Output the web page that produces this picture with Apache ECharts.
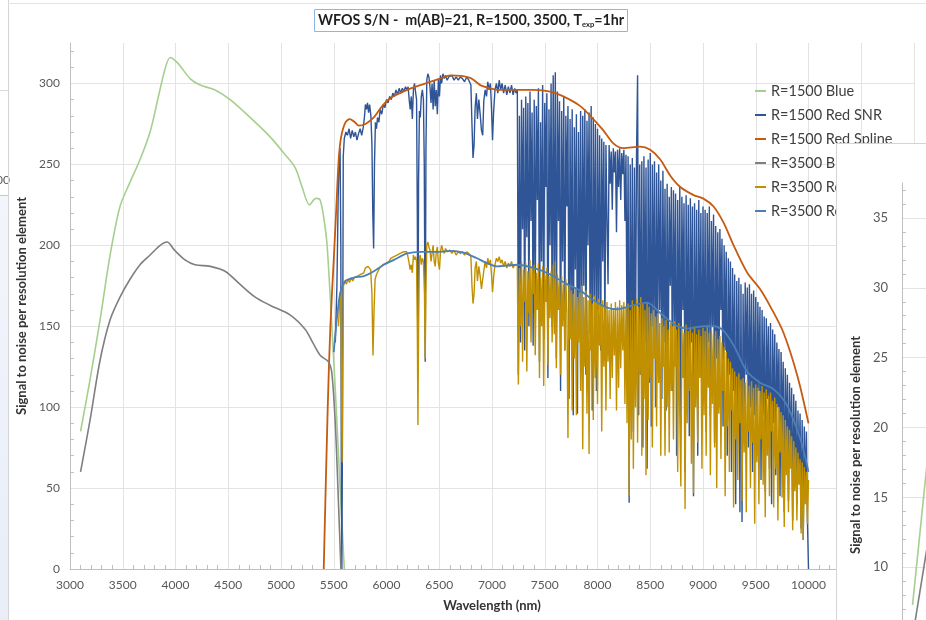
<!DOCTYPE html>
<html>
<head>
<meta charset="utf-8">
<script src="https://cdn.jsdelivr.net/npm/echarts@6/dist/echarts.min.js"></script>
<style>
  html, body { margin: 0; padding: 0; width: 926px; height: 620px; overflow: hidden; background: #fff; }
  #main { position: absolute; left: 0; top: 0; width: 926px; height: 620px; }
  #inset { position: absolute; left: 836px; top: 143px; width: 1000px; height: 620px;
           background: #fff; border-left: 1px solid #d4d4d4; border-top: 1px solid #d4d4d4; }
</style>
</head>
<body>
<div id="main"></div>
<div id="inset"></div>
<script>
// ---- S/N curves, [wavelength, S/N] ----
const seriesNames = ['R=1500 Blue', 'R=1500 Red SNR', 'R=1500 Red Spline',
                     'R=3500 Blue', 'R=3500 Red', 'R=3500 Red spline'];

const blue1500 = [[3100,85],[3190,117],[3285,154],[3380,194],[3474,224],[3569,239],[3664,253],
  [3759,270],[3835,291],[3901,309],[3950,316],[4000,314],[4043,311],[4138,303],[4233,299],
  [4375,296],[4518,290],[4707,279],[4897,267],[5039,256],[5134,248],[5200,236],[5270,225],
  [5330,229],[5371,228],[5410,215],[5437,200],[5482,150],[5516,109],[5547,68],[5579,27],[5600,0]];

const blue3500 = [[3100,60],[3190,92],[3285,129],[3380,154],[3474,168],[3569,179],[3664,188],
  [3759,194],[3855,200],[3920,202],[3990,197],[4090,191],[4185,188],[4330,187],[4470,184],
  [4610,176],[4755,168],[4895,163],[5085,157],[5230,148],[5300,140],[5371,132],[5450,128],
  [5482,121],[5516,88],[5547,37],[5568,0]];

const redSpline1500 = [[5405,0],[5443,100],[5468,150],[5500,191],[5525,224],[5547,253],[5570,267],
  [5611,276],[5652,278],[5700,276],[5737,274],[5800,275],[5880,279],[5959,286],[6038,291],
  [6196,296],[6323,299],[6506,303],[6607,305],[6794,303.5],[6889,299],[6984,297],[7078,296],
  [7393,296],[7552,295],[7676,292],[7837,286],[7960,278],[8055,271],[8150,263],[8245,260],
  [8404,261],[8500,259],[8595,253],[8690,243],[8785,236],[8911,231],[9000,229],[9100,224],
  [9195,214],[9290,200],[9420,183],[9545,172.6],[9640,162],[9763,146],[9896,119],[10000,90]];

const redSpline3500 = [[5500,134],[5532,156],[5563,171],[5611,178],[5690,180],[5785,181],
  [5880,184],[5975,188],[6070,191],[6196,195],[6323,196],[6506,196],[6607,196.5],[6730,195.5],
  [6857,192],[6952,189],[7047,187],[7140,187.5],[7237,188],[7393,186],[7552,182],[7710,176],
  [7837,172],[7963,166],[8090,161.5],[8185,160.5],[8311,162.5],[8470,164.6],[8596,158],
  [8755,150],[8850,148.6],[9007,150],[9102,150],[9197,147],[9292,138],[9418,122],[9545,115],
  [9671,111],[9797,101],[9924,80],[10000,60]];

// R=1500 red arm, up to the dense telluric region
const redSnr1500Head = [[5515,140],[5530,175],[5542,230],[5552,255],[5560,260],[5567,200],
  [5572,60],[5577,0],[5583,90],[5590,255],[5600,266],[5615,270],[5630,268],[5645,272],[5660,266],
  [5675,271],[5690,267],[5705,270],[5720,265],[5735,269],[5750,272],[5765,268],[5780,273],
  [5792,280],[5800,287],[5810,284],[5820,288],[5830,282],[5840,287],[5852,280],[5862,262],
  [5870,220],[5878,198],[5886,250],[5895,276],[5905,272],[5915,279],[5928,276],[5940,284],
  [5955,281],[5970,287],[5985,285],[6000,290],[6015,288],[6030,292],[6045,290],[6060,294],
  [6075,292],[6090,296],[6105,293],[6120,297],[6135,294],[6150,297],[6165,295],[6180,298],
  [6195,296],[6205,298],[6215,290],[6225,284],[6235,292],[6245,278],[6255,296],[6265,300],
  [6275,295],[6285,290],[6292,220],[6298,125],[6304,240],[6312,283],[6320,279],[6330,292],
  [6340,296],[6350,290],[6358,250],[6367,128],[6374,260],[6382,302],[6392,306],[6402,304],
  [6412,298],[6422,288],[6432,300],[6442,284],[6452,302],[6462,286],[6472,296],[6482,281],
  [6492,303],[6502,292],[6512,305],[6522,300],[6535,306],[6548,303],[6560,305],[6575,302],
  [6590,304],[6605,303],[6620,305],[6640,302],[6660,304],[6680,302],[6700,304],[6720,303],
  [6740,301],[6760,304],[6780,302],[6800,299],[6810,275],[6820,254],[6830,262],[6840,285],
  [6852,294],[6862,278],[6875,290],[6888,281],[6900,271],[6912,268],[6922,289],[6935,296],
  [6948,292],[6960,301],[6972,296],[6985,300],[6995,285],[7005,265],[7015,282],[7028,296],
  [7042,300],[7055,294],[7068,302],[7082,296],[7095,300],[7110,294],[7125,299],[7140,293],
  [7155,298],[7170,294],[7185,299],[7200,293],[7215,297],[7228,294],[7240,296],[7250,120],
  [7260,280],[7270,140],[7280,290],[7290,210]];

// Dense region, one row per 100 nm (7300..9990, 10 nm apart)
const denseStart = 7300, denseStep = 10;
const redSnr1500Dense = [
  285,135,292,205,288,150,295,215,282,138,   // 7300
  290,165,286,228,297,128,276,190,299,142,   // 7400
  288,236,294,118,284,200,300,150,305,175,   // 7500
  307,130,295,215,289,110,283,190,292,135,   // 7600
  280,224,286,105,278,160,284,95,273,185,    // 7700
  281,96,270,150,283,130,280,175,284,120,    // 7800
  277,200,282,145,286,98,279,168,275,110,    // 7900
  272,160,268,135,266,190,264,145,262,215,   // 8000
  176,262,238,258,222,260,245,258,208,259,   // 8100
  236,260,228,257,244,259,215,256,140,255,   // 8200
  41,250,110,254,85,248,130,256,305,95,      // 8300
  250,120,252,75,255,140,248,62,253,115,     // 8400
  257,88,250,150,252,100,245,130,250,160,    // 8500
  240,105,246,140,235,98,238,120,230,175,    // 8600
  236,110,234,150,232,70,228,125,236,88,     // 8700
  230,160,226,60,231,118,225,82,229,140,     // 8800
  224,45,226,105,222,70,228,130,220,90,      // 8900
  224,110,222,85,220,140,224,95,215,150,     // 9000
  219,78,212,130,208,100,210,160,204,88,     // 9100
  200,135,196,70,192,120,190,60,186,110,     // 9200
  182,40,178,95,180,35,176,29,170,90,        // 9300
  177,120,174,75,176,100,170,60,172,95,      // 9400
  168,70,165,110,162,55,160,95,156,48,       // 9500
  155,105,150,62,152,40,148,90,145,58,       // 9600
  140,100,136,45,134,80,128,35,124,75,       // 9700
  120,42,115,68,112,30,108,60,104,40,        // 9800
  98,55,96,25,92,18,88,45,85,30              // 9900
];
const redSnr1500Tail = [[10000,0]];

const red3500Head = [[5545,150],[5552,160],[5560,170],[5568,172],[5574,110],[5579,66],[5585,120],
  [5592,175],[5605,178],[5620,176],[5635,179],[5650,177],[5665,180],[5680,178],[5695,180],
  [5710,179],[5725,181],[5740,180],[5755,182],[5770,181],[5785,183],[5800,186],[5812,185],
  [5825,187],[5838,186],[5850,185],[5862,170],[5872,132],[5882,160],[5892,179],[5905,182],
  [5920,184],[5935,186],[5950,185],[5965,188],[5980,187],[5995,189],[6010,188],[6025,190],
  [6040,192],[6055,191],[6070,193],[6085,192],[6100,194],[6115,193],[6130,195],[6145,194],
  [6160,196],[6175,195],[6190,196],[6200,194],[6212,190],[6224,185],[6234,188],[6245,183],
  [6255,194],[6265,191],[6275,193],[6285,190],[6292,150],[6298,89],[6304,150],[6312,192],
  [6320,194],[6330,188],[6340,192],[6350,190],[6360,170],[6367,130],[6374,175],[6382,200],
  [6392,202],[6402,199],[6412,197],[6422,190],[6432,195],[6442,200],[6452,190],[6462,187],
  [6472,196],[6482,199],[6492,189],[6502,185],[6512,196],[6522,200],[6535,197],[6548,195],
  [6560,198],[6580,196],[6600,197],[6620,195],[6640,197],[6660,194],[6680,196],[6700,195],
  [6720,196],[6740,194],[6760,196],[6780,195],[6800,193],[6810,175],[6820,164],[6830,170],
  [6840,186],[6852,190],[6862,178],[6875,187],[6888,181],[6900,173],[6912,172],[6922,184],
  [6935,190],[6948,186],[6960,192],[6972,188],[6985,191],[6995,182],[7005,171],[7015,180],
  [7028,188],[7042,192],[7055,190],[7068,193],[7082,189],[7095,191],[7110,187],[7125,190],
  [7140,186],[7155,189],[7170,187],[7185,190],[7200,186],[7215,188],[7228,187],[7240,188],
  [7250,114],[7260,186],[7270,150],[7280,190],[7290,128]];

const red3500Dense = [
  185,165,189,122,184,158,191,140,186,170,   // 7300
  188,132,183,160,189,118,180,150,187,113,   // 7400
  182,165,186,126,181,155,184,140,188,145,   // 7500
  190,124,182,160,178,120,181,150,176,135,   // 7600
  179,158,81,175,142,172,98,170,130,174,     // 7700
  95,168,140,171,110,175,74,168,125,172,     // 7800
  96,166,71,170,135,164,92,169,118,165,      // 7900
  102,167,138,163,85,166,125,162,98,165,     // 8000
  128,160,105,164,118,161,132,165,98,162,    // 8100
  112,166,124,163,135,165,102,162,90,164,    // 8200
  45,160,80,166,62,163,100,167,78,162,       // 8300
  120,168,70,164,105,160,58,165,92,162,      // 8400
  118,158,75,160,130,156,88,158,115,152,     // 8500
  70,155,125,150,70,154,100,148,72,152,      // 8600
  110,150,80,153,125,148,60,152,95,51,       // 8700
  150,118,146,37,151,90,147,110,149,65,      // 8800
  146,47,150,100,145,78,148,118,144,62,      // 8900
  149,95,147,70,150,112,146,58,148,102,      // 9000
  145,75,147,50,142,96,144,68,140,110,       // 9100
  137,45,134,88,130,60,128,98,124,38,        // 9200
  122,80,119,55,121,90,117,42,118,72,        // 9300
  115,35,117,85,113,50,116,78,112,28,        // 9400
  114,66,112,40,110,80,113,52,109,32,        // 9500
  111,70,107,45,109,85,104,38,106,62,        // 9600
  102,30,100,72,97,44,95,26,92,58,           // 9700
  88,35,86,62,82,24,79,48,75,30,             // 9800
  72,52,68,22,66,18,63,40,60,28              // 9900
];
const red3500Tail = [[10000,55]];

// Fainter-target panel (partly visible at the right edge)
const faintBlue1500 = [[3100,7.3],[3300,22]];
const faintBlue3500 = [[3100,5.0],[3300,14.3]];

// Axis ranges and ticks
const xMin = 3000, xMax = 11000, xStep = 500;
const yMin = 0, yMax = 325, yStep = 50;
const insetYMin = 0, insetYMax = 37.5, insetYStep = 5;

const FONT = 'Lato';
const colors = ['#a5cf8f', '#2f5597', '#c55a11', '#7f7f7f', '#c09000', '#4a7fb8'];

function withDense(head, dense, tail) {
  const out = head.slice();
  dense.forEach((v, i) => out.push([denseStart + i * denseStep, v]));
  return out.concat(tail);
}

const redSnr1500 = withDense(redSnr1500Head, redSnr1500Dense, redSnr1500Tail);
const red3500 = withDense(red3500Head, red3500Dense, red3500Tail);

const plain = v => String(v);

const main = echarts.init(document.getElementById('main'), null, { renderer: 'canvas' });

const axisText = { fontFamily: FONT, fontSize: 12, color: '#595959' };
const nameText = { fontFamily: FONT, fontSize: 13, fontWeight: 'bold', color: '#333' };

main.setOption({
  animation: false,
  backgroundColor: '#fff',
  color: colors,
  title: {
    text: '{a|WFOS S/N -  m(AB)=21, R=1500, 3500, T}{s|exp}{a|=1hr}',
    left: 314, top: 8,
    padding: [4, 4, 3, 4],
    borderColor: '#8fb6e0', borderWidth: 1,
    textStyle: {
      rich: {
        a: { fontFamily: FONT, fontSize: 14.3, fontWeight: 'bold', color: '#1f1f1f', lineHeight: 17 },
        s: { fontFamily: FONT, fontSize: 7.5, fontWeight: 'bold', color: '#1f1f1f', lineHeight: 13, verticalAlign: 'bottom' }
      }
    }
  },
  legend: {
    orient: 'vertical', left: 755, top: 83, padding: 0,
    icon: 'rect', itemWidth: 11, itemHeight: 2, itemGap: 8,
    textStyle: { fontFamily: FONT, fontSize: 14.5, color: '#404040', lineHeight: 16 },
    data: seriesNames
  },
  grid: { left: 70, right: 12, top: 43, bottom: 51, containLabel: false, outerBoundsMode: 'none' },
  xAxis: {
    type: 'value', min: xMin, max: xMax, interval: xStep,
    name: 'Wavelength (nm)', nameLocation: 'middle', nameGap: 30, nameTextStyle: nameText,
    axisLine: { lineStyle: { color: '#bfbfbf' } },
    axisTick: { show: false, inside: true },
    minorTick: { show: true, splitNumber: 5, length: 4, lineStyle: { color: '#bfbfbf' } },
    axisLabel: Object.assign({ margin: 10, formatter: plain }, axisText),
    splitLine: { show: true, lineStyle: { color: '#e3e3e3' } }
  },
  yAxis: {
    type: 'value', min: yMin, max: yMax, interval: yStep,
    name: 'Signal to noise per resolution element', nameLocation: 'middle', nameGap: 35,
    nameTextStyle: nameText,
    axisLine: { show: true, lineStyle: { color: '#bfbfbf' } },
    axisTick: { show: false, inside: true },
    minorTick: { show: true, splitNumber: 5, length: 4, lineStyle: { color: '#bfbfbf' } },
    axisLabel: Object.assign({ margin: 10, showMaxLabel: false, formatter: plain }, axisText),
    splitLine: { show: true, showMaxLine: false, lineStyle: { color: '#e3e3e3' } }
  },
  graphic: [
    { type: 'rect', shape: { x: 0, y: 195, width: 8, height: 425 },
      style: { fill: new echarts.graphic.LinearGradient(0, 0, 0, 1, [
        { offset: 0, color: '#f3f5fb' }, { offset: 1, color: '#e8edf8' }]) }, silent: true },
    { type: 'line', shape: { x1: 0, y1: 90.5, x2: 8, y2: 90.5 }, style: { stroke: '#d9d9d9' }, silent: true },
    { type: 'line', shape: { x1: 0, y1: 195.5, x2: 8, y2: 195.5 }, style: { stroke: '#c8c8c8' }, silent: true },
    { type: 'text', x: 10, y: 180, style: { text: '00', fontFamily: FONT, fontSize: 12, fill: '#595959',
      textAlign: 'right', textVerticalAlign: 'middle' }, silent: true },
    { type: 'line', shape: { x1: 8.5, y1: 0, x2: 8.5, y2: 620 }, style: { stroke: '#d4d4d4' }, silent: true },
    { type: 'line', shape: { x1: 8, y1: 3.5, x2: 926, y2: 3.5 }, style: { stroke: '#e4e4e4' }, silent: true }
  ],
  series: [
    { name: seriesNames[0], type: 'line', data: blue1500, showSymbol: false, symbol: 'none',
      smooth: 0.3, lineStyle: { width: 1.6 } },
    { name: seriesNames[1], type: 'line', data: redSnr1500, showSymbol: false, symbol: 'none',
      lineStyle: { width: 1.4 } },
    { name: seriesNames[2], type: 'line', data: redSpline1500, showSymbol: false, symbol: 'none',
      smooth: 0.3, lineStyle: { width: 1.8 } },
    { name: seriesNames[3], type: 'line', data: blue3500, showSymbol: false, symbol: 'none',
      smooth: 0.3, lineStyle: { width: 1.6 } },
    { name: seriesNames[4], type: 'line', data: red3500, showSymbol: false, symbol: 'none',
      lineStyle: { width: 1.4 } },
    { name: seriesNames[5], type: 'line', data: redSpline3500, showSymbol: false, symbol: 'none',
      smooth: 0.3, lineStyle: { width: 1.8 } }
  ]
});

// Second chart, overlapping on the right
const inset = echarts.init(document.getElementById('inset'), null, { renderer: 'canvas' });
inset.setOption({
  animation: false,
  backgroundColor: '#fff',
  grid: { left: 65, top: 39, width: 843, bottom: 57, containLabel: false, outerBoundsMode: 'none' },
  xAxis: { type: 'value', min: xMin, max: xMax, show: false },
  yAxis: {
    type: 'value', min: insetYMin, max: insetYMax, interval: insetYStep,
    name: 'Signal to noise per resolution element', nameLocation: 'middle', nameGap: 40,
    nameTextStyle: nameText,
    axisLine: { show: true, lineStyle: { color: '#bfbfbf' } },
    axisTick: { show: false, inside: true },
    minorTick: { show: true, splitNumber: 5, length: 4, lineStyle: { color: '#bfbfbf' } },
    axisLabel: Object.assign({ margin: 14, showMaxLabel: false, formatter: plain }, axisText, { fontSize: 13 }),
    splitLine: { show: true, showMaxLine: false, lineStyle: { color: '#e3e3e3' } }
  },
  series: [
    { name: seriesNames[0], type: 'line', data: faintBlue1500, symbol: 'none',
      lineStyle: { width: 1.6, color: colors[0] } },
    { name: seriesNames[3], type: 'line', data: faintBlue3500, symbol: 'none',
      lineStyle: { width: 1.6, color: colors[3] } }
  ]
});
</script>
</body>
</html>
